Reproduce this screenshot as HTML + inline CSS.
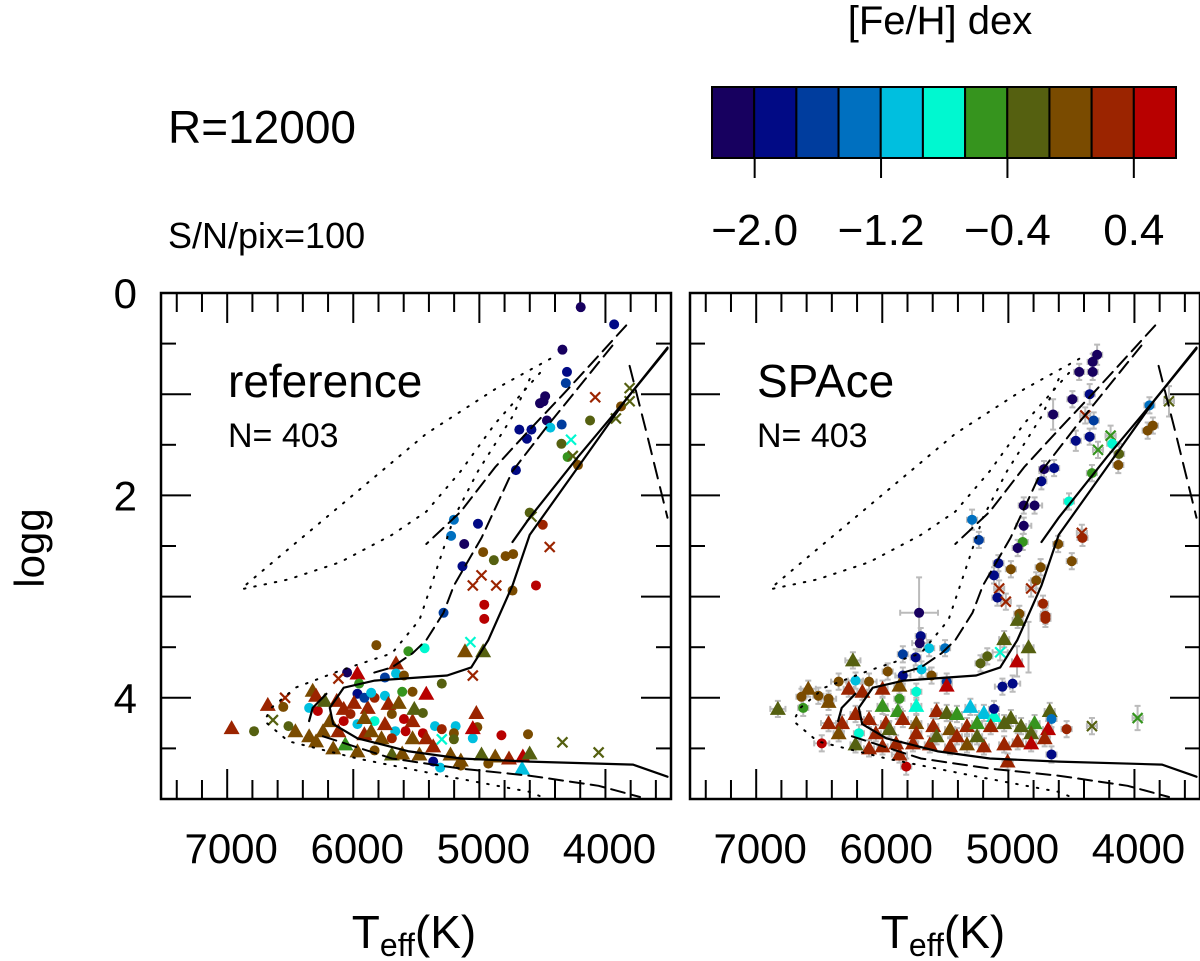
<!DOCTYPE html>
<html><head><meta charset="utf-8"><style>
html,body{margin:0;padding:0;background:#fff;}
svg{display:block;font-family:"Liberation Sans",Arial,sans-serif;}
</style></head><body>
<svg id="chart" width="1200" height="961" viewBox="0 0 1200 961" xmlns="http://www.w3.org/2000/svg">
<text x="168" y="143" font-size="46">R=12000</text>
<text x="168" y="248" font-size="36">S/N/pix=100</text>
<text x="940" y="34" font-size="40" text-anchor="middle">[Fe/H] dex</text>
<g id="cbar"></g>
<text transform="translate(44,548) rotate(-90)" font-size="42" text-anchor="middle">logg</text>
<g id="p1"></g>
<g id="p2"></g>
</svg>
<script>
// ---- colour scale data ----
const fehMin = -2.27, fehStep = 0.267;
const cellColors = ["#17005f","#010a85","#003d9e","#0070c0","#00bfdf","#00f8d0","#36941e","#556010","#7a4b00","#9b2400","#b80000"];
const cbarTicks = [-2.0,-1.2,-0.4,0.4];
const cbarTickLabels = ["\u22122.0","\u22121.2","\u22120.4","0.4"];
// ---- axis data ----
const xTickLabels = [7000,6000,5000,4000];
const yTickLabels = [0,2,4];
// ---- left panel (reference) ----
const refT = [4196,3931,4341,4305,4314,4478,4491,4519,4081,3808,3876,3808,4464,4437,4347,4683,4587,4623,4122,4273,4349,4300,4259,4218,3917,4710,4601,4587,4497,4442,5202,5224,5011,5120,4970,4792,4732,4885,5134,4983,5052,4866,4551,4737,4961,4961,5284,5817,5563,5434,5071,5114,4970,5052,5661,5967,6049,6118,5749,5661,5598,5954,5298,5421,5530,5612,5967,6322,6295,6541,6678,6555,6965,6787,6637,6514,6459,6350,6240,6350,6281,6131,6076,6022,5967,5885,5831,5749,5694,5667,5598,5530,5516,5448,5585,5448,5352,5298,5188,5202,5024,5016,5052,5202,5298,4825,4614,4341,4054,6063,5967,5831,5694,5612,5475,5366,5229,5147,4983,4874,4765,4655,4601,4661,5366,5311,5147,4929,6186,6118,5912,5776,5694,6076,5831,6227,5994,5912,5858,5721,5639,6295,6159,5530,5421,5052,5912,5749,5858];
const refG = [0.14,0.31,0.56,0.78,0.89,1.02,1.07,1.09,1.03,0.94,1.12,1.07,1.26,1.33,1.30,1.35,1.35,1.44,1.26,1.45,1.49,1.62,1.61,1.70,1.24,1.75,2.17,2.21,2.29,2.51,2.24,2.40,2.28,2.48,2.56,2.60,2.58,2.64,2.70,2.79,2.89,2.89,2.89,2.94,3.08,3.22,3.16,3.48,3.54,3.51,3.45,3.54,3.54,3.78,3.66,3.76,3.75,3.81,3.80,3.76,3.78,3.86,3.86,3.96,3.94,3.94,3.96,3.93,3.98,4.00,4.07,4.09,4.30,4.33,4.22,4.28,4.33,4.38,4.33,4.10,4.13,4.03,4.11,4.16,4.26,4.10,4.23,3.98,4.16,4.33,4.21,4.23,4.11,4.15,4.33,4.35,4.28,4.31,4.28,4.35,4.15,4.29,4.40,4.41,4.41,4.37,4.36,4.44,4.54,4.46,4.53,4.52,4.56,4.55,4.56,4.48,4.56,4.62,4.56,4.58,4.60,4.58,4.55,4.70,4.63,4.69,4.67,4.65,4.23,4.33,4.36,4.40,4.40,4.23,4.00,4.03,4.05,4.00,3.95,4.06,4.05,4.43,4.50,4.40,4.40,4.30,4.20,4.26,4.33];
const refFeH = [-2.14,-1.87,-2.14,-1.87,-1.60,-2.14,-2.14,-2.14,0.27,-0.27,0.0,-0.27,-2.14,-1.07,-1.60,-1.87,-1.87,-1.87,-0.27,-0.80,-0.27,-0.54,-0.27,0.0,-0.27,-1.87,-0.27,-0.27,0.27,0.27,-1.34,-1.34,-1.87,-2.14,0.0,0.0,0.0,-0.27,-1.87,0.27,0.27,0.27,0.54,0.0,0.54,0.54,-1.60,0.0,-0.54,-0.80,-0.80,0.0,-0.27,0.27,0.27,0.54,-2.14,0.27,-1.60,-1.07,0.0,-0.54,-0.27,0.54,0.0,-0.54,-1.87,0.0,0.27,0.27,0.27,0.0,0.27,-0.27,-0.27,-0.27,0.0,0.0,0.0,-1.07,0.54,0.27,0.27,0.27,-1.07,0.27,-0.80,-1.07,0.0,-1.07,0.54,0.27,-0.27,-0.27,0.54,0.54,-1.07,0.27,-1.07,0.0,0.27,0.0,-1.07,-0.27,-0.80,0.54,0.0,-0.27,-0.27,-0.54,0.0,0.0,-0.27,0.0,0.0,0.27,0.0,0.0,-0.27,0.0,0.27,0.54,-0.27,-1.07,-1.87,-1.07,0.0,0.0,0.0,0.27,0.27,0.0,0.27,0.54,0.27,-0.27,0.27,-1.60,-1.07,0.27,0.0,0.0,0.0,0.0,0.27,0.54,0.0,0.27,0.0];
const refShape = "cccccccc"+"xxcx"+"ccccccc"+"xccxcx"+"ccxcx"+"ccccccccc"+"xxx"+"cccccccc"+"xttxtt"+"cxccccc"+"tccc"+"ttxtc"+"tcxcttt"+"ccttcc"+"tccccc"+"ttccccccc"+"tccc"+"xccxx"+"ttctttttttttttt"+"cccc"+"ttttccc"+"tt"+"cc"+"tttttttttt";
// ---- right panel (SPAce) ----
const spT = [4296,4331,4438,4331,4355,4492,4645,4390,4323,4355,4465,3881,3726,3854,3895,4189,4176,4289,4122,4128,4337,4717,4637,4738,4519,4878,4792,4878,5288,5234,4886,4926,4417,4412,4605,4497,4744,4980,5079,5114,4779,4819,5073,5087,5020,4725,4706,4706,4913,4926,5708,5695,5703,5628,5735,5837,5502,5033,4840,5065,5167,5221,4931,6233,5957,5837,5689,5609,5489,5047,4966,5489,5730,5864,6105,6212,6346,6587,6641,6507,6426,6828,6627,6426,6266,6158,5998,5864,5998,5877,5730,5569,5489,5408,5301,5194,5114,4980,5114,4792,4672,4658,4538,4337,3975,6426,6319,6212,6105,5971,5837,5730,5596,5462,5328,5248,5140,5033,4899,4819,4685,4712,4819,4926,5033,5194,5328,5462,5623,5757,5890,5998,6105,6212,5864,5006,4658,6185,6480,5810,5944,5730,5569,5408,5248,6051,6346];
const spG = [0.61,0.68,0.78,0.78,1.00,1.05,1.20,1.21,1.26,1.42,1.46,1.11,1.07,1.31,1.36,1.41,1.49,1.55,1.59,1.70,1.78,1.74,1.73,1.86,2.06,2.10,2.10,2.30,2.24,2.44,2.46,2.52,2.37,2.42,2.48,2.65,2.71,2.73,2.67,2.79,2.84,2.92,2.92,3.01,3.05,3.07,3.19,3.22,3.17,3.23,3.16,3.39,3.46,3.51,3.60,3.57,3.51,3.42,3.50,3.55,3.59,3.66,3.64,3.63,3.74,3.78,3.72,3.78,3.84,3.89,3.86,3.88,3.94,4.01,3.84,3.83,3.84,3.91,3.99,3.98,4.01,4.11,4.10,4.04,3.91,3.94,3.91,3.88,4.08,4.13,4.08,4.13,4.15,4.16,4.09,4.15,4.18,4.20,4.11,4.25,4.13,4.21,4.31,4.28,4.20,4.25,4.25,4.16,4.21,4.25,4.21,4.25,4.28,4.31,4.28,4.25,4.28,4.25,4.28,4.35,4.31,4.40,4.45,4.43,4.46,4.48,4.46,4.48,4.46,4.45,4.45,4.48,4.50,4.46,4.56,4.63,4.56,4.35,4.45,4.68,4.31,4.35,4.38,4.38,4.38,4.35,4.35];
const spFeH = [-2.14,-2.14,-2.14,-2.14,-1.87,-2.14,-2.14,0.27,-1.60,-1.87,-1.87,-1.34,-0.27,0.0,0.0,-0.54,-0.80,-0.54,-0.27,0.0,-0.54,-2.14,-1.87,-1.87,-0.80,-2.14,-2.14,-2.14,-1.34,-1.60,-0.54,-2.14,0.27,0.27,0.0,0.0,0.0,0.0,-1.87,-1.87,0.0,0.27,0.27,-1.87,0.27,0.27,0.27,0.27,0.0,-0.27,-2.14,-1.87,-2.14,-1.07,-1.87,-1.60,-1.34,-0.27,-0.27,-0.80,-0.27,-0.27,0.54,-0.27,0.0,-1.87,-1.07,0.0,-1.60,-1.87,-1.87,0.54,-0.80,-0.54,0.0,-1.07,0.0,0.0,0.0,0.0,0.0,-0.27,-0.54,0.0,0.27,0.27,0.27,0.0,-0.54,-0.54,-0.80,0.27,-0.27,-0.54,-1.07,-1.07,-0.80,-0.27,-1.87,-0.54,-0.27,-1.34,0.27,-0.27,-0.54,0.27,0.27,0.27,0.27,0.27,0.27,0.0,0.27,0.0,0.27,-0.54,0.27,-0.27,-0.27,-0.27,0.54,0.27,0.54,0.27,0.27,0.27,0.0,0.27,0.27,0.27,0.27,0.27,0.27,-0.27,0.27,0.27,-1.87,-0.80,0.54,0.54,-0.27,0.27,-0.27,0.27,-0.27,0.27,0.0];
const spShape = "ccccccc"+"x"+"cccc"+"x"+"ccxcx"+"cccccccccccccc"+"x"+"c"+"ccccccc"+"xxcx"+"cccc"+"t"+"ccccccc"+"ttxcctt"+"ccccccc"+"t"+"ccccc"+"t"+"ccc"+"tc"+"ttttttttttttttt"+"c"+"ttccxx"+"ttttttttttttttttttttttttttttttt"+"cccc"+"ttttttt";
const spErrT = [40,40,40,40,40,40,40,40,40,40,40,40,40,40,40,40,40,40,40,40,40,40,40,40,40,40,60,60,40,40,40,40,40,40,40,40,40,40,40,40,40,40,40,40,40,40,40,40,40,40,150,40,60,40,40,40,40,40,40,60,40,40,40,60,40,60,60,40,40,60,60,40,40,40,60,60,60,60,40,40,60,60,40,40,40,40,40,40,40,40,40,40,40,40,40,40,40,40,40,40,40,40,40,40,40,60,40,40,40,40,40,40,40,40,40,40,40,40,40,40,40,40,40,40,40,40,40,40,40,40,40,40,40,40,60,40,40,40,60,40,40,40,40,40,40,40,40];
const spErrG = [0.1,0.08,0.08,0.08,0.1,0.08,0.15,0.08,0.08,0.08,0.1,0.08,0.15,0.08,0.08,0.1,0.08,0.08,0.1,0.08,0.08,0.08,0.08,0.08,0.08,0.08,0.08,0.08,0.1,0.08,0.08,0.08,0.08,0.08,0.08,0.08,0.08,0.08,0.08,0.08,0.08,0.08,0.08,0.08,0.08,0.08,0.08,0.08,0.08,0.08,0.35,0.08,0.08,0.08,0.08,0.08,0.08,0.08,0.25,0.08,0.08,0.08,0.15,0.08,0.08,0.08,0.08,0.08,0.08,0.08,0.08,0.08,0.08,0.08,0.08,0.08,0.08,0.08,0.08,0.08,0.08,0.08,0.08,0.08,0.08,0.08,0.08,0.08,0.08,0.08,0.08,0.08,0.08,0.08,0.08,0.08,0.08,0.08,0.08,0.08,0.08,0.08,0.08,0.08,0.12,0.08,0.08,0.08,0.08,0.08,0.08,0.08,0.08,0.08,0.08,0.08,0.08,0.08,0.08,0.08,0.08,0.08,0.08,0.08,0.08,0.08,0.08,0.08,0.08,0.08,0.08,0.08,0.08,0.08,0.08,0.08,0.08,0.08,0.08,0.08,0.08,0.08,0.08,0.08,0.08,0.08,0.08];
// ---- isochrone tracks (Teff, logg) ----
const isoSolidA = [[3508,0.55],[3835,1.05],[4218,1.72],[4601,2.39],[4737,2.89],[4929,3.43],[5065,3.70],[5257,3.78],[5831,3.83],[6076,3.90],[6186,4.10],[6159,4.26],[5967,4.40],[5557,4.53],[5147,4.60],[4601,4.63],[3781,4.66],[3508,4.78]];
const isoSolidB = [[3508,0.54],[3835,1.05],[4218,1.62],[4601,2.22],[4737,2.46]];
const isoSolidC = [[6350,4.23],[6322,4.10],[6213,3.96]];
const isoDashA = [[3835,0.32],[4054,0.62],[4327,0.99],[4601,1.35],[4874,1.72],[5147,2.16],[5421,2.48]];
const isoDashB = [[3945,0.52],[4464,1.32],[4737,1.76],[4983,2.42],[5202,2.89],[5284,3.16],[5421,3.43],[5530,3.56],[5694,3.70],[5858,3.76]];
const isoDashC = [[6241,4.38],[5694,4.60],[5147,4.70],[4601,4.77],[4054,4.87],[3726,4.98]];
const isoDashD = [[3808,0.72],[3672,1.39],[3508,2.22]];
const isoDotA = [[4437,0.65],[4874,0.95],[5421,1.39],[5967,1.96],[6514,2.53],[6896,2.93]];
const isoDotB = [[4519,0.79],[4874,1.29],[5147,1.76],[5421,2.16],[5694,2.39],[6104,2.66],[6514,2.83],[6896,2.93]];
const isoDotC = [[4601,0.85],[4737,1.22],[5011,1.76],[5202,2.22],[5339,2.73],[5475,3.23],[5694,3.56],[6104,3.73],[6459,3.90],[6650,4.10],[6705,4.23],[6514,4.43],[5967,4.60],[5284,4.77],[4601,4.93],[4464,5.0]];

const NS = "http://www.w3.org/2000/svg";
const T0 = 7525, T1 = 3480, PW = 510, PTOP = 293, PH = 506, GMAX = 5;
function mk(tag, attrs, parent){ const e=document.createElementNS(NS,tag); for(const k in attrs) e.setAttribute(k,attrs[k]); parent.appendChild(e); return e; }
function colorOf(f){ let i=Math.floor((f-fehMin)/fehStep); i=Math.max(0,Math.min(cellColors.length-1,i)); return cellColors[i]; }

// colorbar
const cb = document.getElementById('cbar');
const CBX0=712, CBX1=1176, CBY0=87, CBY1=158;
const cw=(CBX1-CBX0)/cellColors.length;
function cbx(f){ return CBX0 + (f-fehMin)/(fehStep*cellColors.length)*(CBX1-CBX0); }
cellColors.forEach((c,i)=>{
  const r=mk('rect',{x:CBX0+i*cw,y:CBY0,width:cw,height:CBY1-CBY0,fill:c,stroke:'#000','stroke-width':2},cb);
  
  
});
cbarTicks.forEach((f,i)=>{
  const x=cbx(f);
  const l=mk('line',{x1:x,y1:CBY1,x2:x,y2:178,stroke:'#000','stroke-width':2},cb);
  
  
  const t=mk('text',{x:x,y:245,'font-size':44,'text-anchor':'middle'},cb);
  t.textContent=cbarTickLabels[i];
  
  
});

function drawPanel(g, x0, title, T, G, F, S, eT, eG){
  const sx = t => x0 + (T0-t)/(T0-T1)*PW;
  const sy = v => PTOP + v/GMAX*PH;
  const x1 = x0+PW, yb = PTOP+PH;
  for(let t=7400;t>=3600;t-=200){
    const major = t%1000===0; const L = major?30:19; const x=sx(t);
    const a=mk('line',{x1:x,y1:PTOP,x2:x,y2:PTOP+L,stroke:'#000','stroke-width':2},g);
    
    
    const b=mk('line',{x1:x,y1:yb,x2:x,y2:yb-L,stroke:'#000','stroke-width':2},g);
    
    
  }
  for(let v=0.5;v<5;v+=0.5){
    const major = Math.abs(v-Math.round(v))<1e-6; const L = major?30:15; const y=sy(v);
    const a=mk('line',{x1:x0,y1:y,x2:x0+L,y2:y,stroke:'#000','stroke-width':2},g);
    
    
    const b=mk('line',{x1:x1,y1:y,x2:x1-L,y2:y,stroke:'#000','stroke-width':2},g);
    
    
  }
  xTickLabels.forEach(t=>{
    const tx=mk('text',{x:sx(t)+4,y:863,'font-size':42,'text-anchor':'middle'},g);
    tx.textContent=String(t);
    
    
  });
  const xt=mk('text',{x:x0+PW/2-2,y:948,'font-size':46,'text-anchor':'middle'},g);
  xt.innerHTML='T<tspan font-size="32" dy="8">eff</tspan><tspan dy="-8">(K)</tspan>';
  
  
  function track(pts, dash, w, name){
    const d = pts.map((p,i)=>(i?'L':'M')+sx(p[0]).toFixed(1)+','+sy(p[1]).toFixed(1)).join(' ');
    const attrs={d:d,fill:'none',stroke:'#000','stroke-width':w,'stroke-linecap':'round'};
    if(dash) attrs['stroke-dasharray']=dash;
    const p=mk('path',attrs,g);
    
    
  }
  if(eT){
    T.forEach((t,i)=>{
      const x=sx(t), y=sy(G[i]);
      const dx=eT[i]/(T0-T1)*PW, dy=eG[i]/GMAX*PH;
      const eb=mk('path',{d:`M${x-dx},${y}H${x+dx}M${x-dx},${y-3}V${y+3}M${x+dx},${y-3}V${y+3}M${x},${y-dy}V${y+dy}M${x-3},${y-dy}H${x+3}M${x-3},${y+dy}H${x+3}`,stroke:'#bbbbbb','stroke-width':2,fill:'none'},g);
      
      
    });
  }
  T.forEach((t,i)=>{
    const x=sx(t), y=sy(G[i]), c=colorOf(F[i]), s=S[i];
    let el;
    if(s==='t'){
      el=mk('path',{d:`M${x},${y-8}L${x+8},${y+6}L${x-8},${y+6}Z`,fill:c},g);
      
    } else if(s==='x'){
      el=mk('path',{d:`M${x-5},${y-5}L${x+5},${y+5}M${x-5},${y+5}L${x+5},${y-5}`,stroke:c,'stroke-width':2.2,fill:'none'},g);
      
    } else {
      el=mk('circle',{cx:x,cy:y,r:5,fill:c},g);
      
    }
    
  });
  track(isoSolidA,null,2.2,'isochrone-solid');
  track(isoSolidB,null,2.2,'isochrone-solid-upper');
  track(isoSolidC,null,2.2,'isochrone-solid-hook');
  track(isoDashA,'14 7',2,'isochrone-dashed');
  track(isoDashB,'14 7',2,'isochrone-dashed-2');
  track(isoDashC,'14 7',2,'isochrone-dashed-ms');
  track(isoDashD,'16 9',2,'isochrone-dashed-cool');
  track(isoDotA,'1.5 9',2,'isochrone-dotted');
  track(isoDotB,'1.5 9',2,'isochrone-dotted-2');
  track(isoDotC,'1.5 9',2,'isochrone-dotted-3');
  const fr=mk('rect',{x:x0,y:PTOP,width:PW,height:PH,fill:'none',stroke:'#000','stroke-width':2.5},g);
  
  
  const tt=mk('text',{x:x0+67,y:397,'font-size':46},g);
  tt.textContent=title;
  
  
  const nn=mk('text',{x:x0+67,y:447,'font-size':34},g);
  nn.textContent='N= 403';
  
  
}
const p1=document.getElementById('p1');
drawPanel(p1,161,'reference',refT,refG,refFeH,refShape,null,null);
drawPanel(document.getElementById('p2'),690,'SPAce',spT,spG,spFeH,spShape,spErrT,spErrG);
yTickLabels.forEach(v=>{
  const t=mk('text',{x:137,y:PTOP+v/GMAX*PH+15,'font-size':42,'text-anchor':'end'},p1);
  t.textContent=String(v);
  
  
});
</script>
</body></html>
